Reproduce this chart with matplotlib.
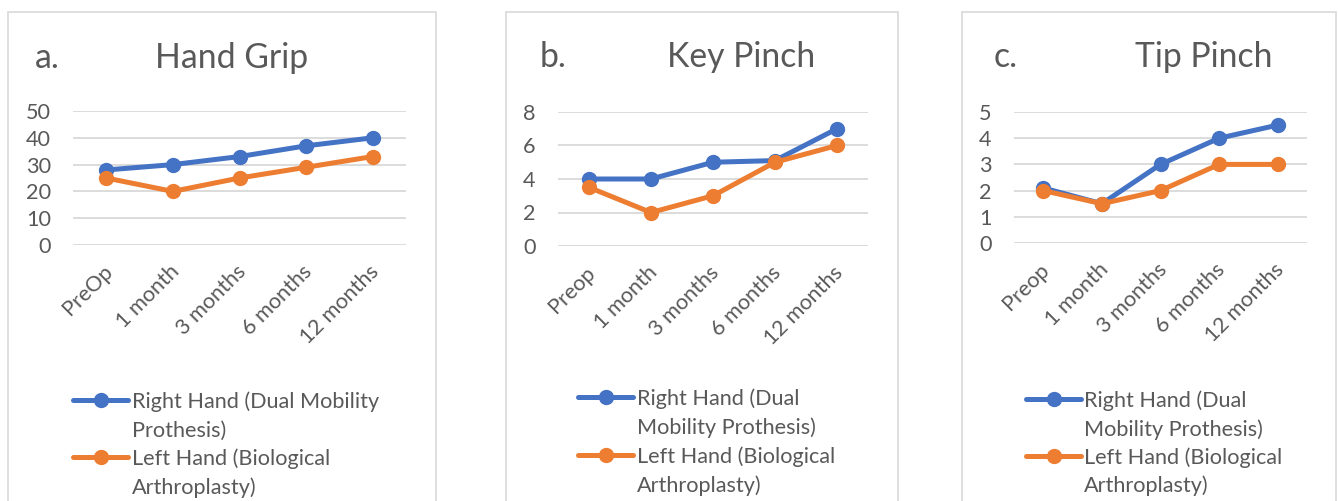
import matplotlib
matplotlib.use("Agg")
import matplotlib.pyplot as plt
import matplotlib.transforms as mtransforms
from matplotlib.lines import Line2D
from matplotlib.patches import Rectangle

# ---------------- data ----------------
cats_a = ["PreOp", "1 month", "3 months", "6 months", "12 months"]
cats_bc = ["Preop", "1 month", "3 months", "6 months", "12 months"]

grip_right = [28, 30, 33, 37, 40]
grip_left = [25, 20, 25, 29, 33]

key_right = [4, 4, 5, 5.1, 7]
key_left = [3.5, 2, 3, 5, 6]

tip_right = [2.1, 1.5, 3, 4, 4.5]
tip_left = [2, 1.5, 2, 3, 3]

yticks_a = [0, 10, 20, 30, 40, 50]
yticks_b = [0, 2, 4, 6, 8]
yticks_c = [0, 1, 2, 3, 4, 5]

right_label = "Right Hand (Dual Mobility Prothesis)"
left_label = "Left Hand (Biological Arthroplasty)"

# ---------------- style ----------------
W, H = 1338, 501
BLUE = "#4472C4"
ORANGE = "#ED7D31"
TXT = "#595959"
GRID = "#D9D9D9"
FONT = "Lato"
plt.rcParams["font.family"] = [FONT, "DejaVu Sans"]

fig = plt.figure(figsize=(W / 100, H / 100), dpi=100)
fig.patch.set_facecolor("white")


def fx(x):
    return x / W


def fy(y):
    return 1 - y / H


panels = [
    dict(box=(8, 436), ax=(73, 406, 111, 245), cats=cats_a, r=grip_right, l=grip_left,
         yt=yticks_a, letter="a.", lx=35, title="Hand Grip", tx=232, ty=68,
         leg_x=(73, 128), leg_tx=132, leg_y=(400, 457),
         leg_lines=(["Right Hand (Dual Mobility", "Prothesis)"], ["Left Hand (Biological", "Arthroplasty)"])),
    dict(box=(506, 898), ax=(558, 868, 112, 246), cats=cats_bc, r=key_right, l=key_left,
         yt=yticks_b, letter="b.", lx=540, title="Key Pinch", tx=741, ty=67,
         leg_x=(578, 633), leg_tx=637, leg_y=(397, 455),
         leg_lines=(["Right Hand (Dual", "Mobility Prothesis)"], ["Left Hand (Biological", "Arthroplasty)"])),
    dict(box=(962, 1336), ax=(1014, 1307, 112, 243), cats=cats_bc, r=tip_right, l=tip_left,
         yt=yticks_c, letter="c.", lx=994, title="Tip Pinch", tx=1204, ty=67,
         leg_x=(1026, 1081), leg_tx=1084, leg_y=(399, 456),
         leg_lines=(["Right Hand (Dual", "Mobility Prothesis)"], ["Left Hand (Biological", "Arthroplasty)"])),
]

TICK_FS = 15.6
TITLE_FS = 24.3
LW = 3.6
MS = 10

for p in panels:
    bx0, bx1 = p["box"]
    fig.add_artist(Rectangle((fx(bx0), fy(515)), fx(bx1 - bx0), (515 - 12) / H,
                             transform=fig.transFigure, fill=False, edgecolor=GRID, lw=1.2))
    x0, x1, ytop, ybot = p["ax"]
    ax = fig.add_axes([fx(x0), fy(ybot), fx(x1 - x0), (ybot - ytop) / H])
    n = len(p["cats"])
    xs = list(range(n))
    ax.plot(xs, p["r"], color=BLUE, lw=LW, marker="o", ms=MS, clip_on=False, zorder=3,
            solid_capstyle="round", label=right_label)
    ax.plot(xs, p["l"], color=ORANGE, lw=LW, marker="o", ms=MS, clip_on=False, zorder=4,
            solid_capstyle="round", label=left_label)
    ax.set_xlim(-0.5, n - 0.5)
    ax.set_ylim(p["yt"][0], p["yt"][-1])
    ax.set_yticks(p["yt"])
    ax.set_yticklabels([str(v) for v in p["yt"]])
    ax.set_xticks(xs)
    ax.set_xticklabels(p["cats"])
    for s in ax.spines.values():
        s.set_visible(False)
    ax.yaxis.grid(True, color=GRID, lw=1.3)
    ax.set_axisbelow(True)
    ax.tick_params(axis="y", length=0, pad=16, labelsize=TICK_FS, labelcolor=TXT)
    ax.tick_params(axis="x", length=0, pad=17, labelsize=TICK_FS, labelcolor=TXT)
    off = mtransforms.ScaledTranslation(3 / 100, 0, fig.dpi_scale_trans)
    for lab in ax.get_xticklabels():
        lab.set_rotation(45)
        lab.set_rotation_mode("anchor")
        lab.set_ha("right")
        lab.set_va("center")
        lab.set_transform(lab.get_transform() + off)
    ax.set_facecolor("none")

    # title and letter
    fig.text(fx(p["tx"]), fy(p["ty"]), p["title"], ha="center", va="baseline",
             fontsize=TITLE_FS, color=TXT)
    fig.text(fx(p["lx"]), fy(p["ty"]), p["letter"], ha="left", va="baseline",
             fontsize=TITLE_FS, color=TXT)

    # legend (keys + wrapped labels)
    lx0, lx1 = p["leg_x"]
    for yc, color, lines in zip(p["leg_y"], (BLUE, ORANGE), p["leg_lines"]):
        fig.add_artist(Line2D([fx(lx0), fx(lx1)], [fy(yc), fy(yc)], transform=fig.transFigure,
                              color=color, lw=LW, solid_capstyle="round"))
        fig.add_artist(Line2D([fx((lx0 + lx1) / 2)], [fy(yc)], transform=fig.transFigure,
                              color=color, marker="o", ms=MS, lw=0))
        for i, t in enumerate(lines):
            fig.text(fx(p["leg_tx"]), fy(yc + 8 + 28.5 * i), t, ha="left", va="baseline",
                     fontsize=TICK_FS, color=TXT)

fig.savefig("out.png", dpi=100, facecolor="white")
